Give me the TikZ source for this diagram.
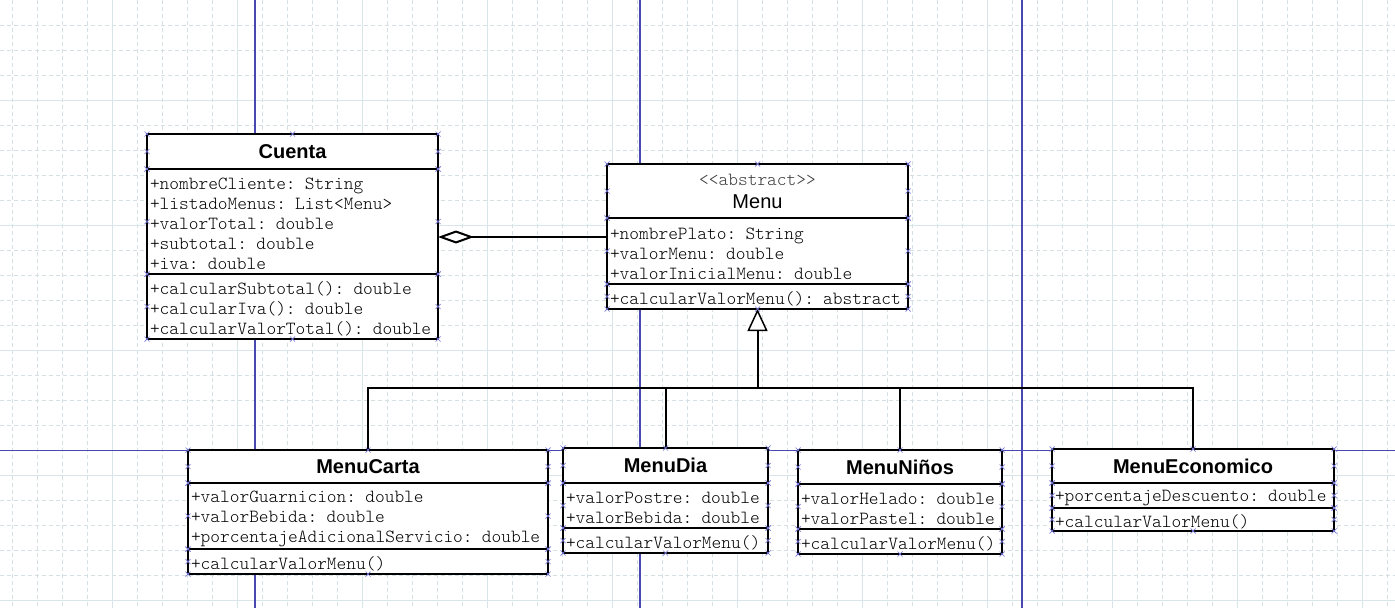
\documentclass[tikz,border=0pt]{standalone}
\usepackage{fontspec}
\usepackage{tikz}
\usetikzlibrary{positioning,arrows.meta}
\newfontfamily\umlmono{lmmonolt10-regular.otf}
\newfontfamily\umlsans{Liberation Sans}
\definecolor{gridminor}{RGB}{212,224,228}
\definecolor{gridmajor}{RGB}{216,229,233}
\definecolor{pageline}{RGB}{72,72,176}
\definecolor{handleblue}{RGB}{120,120,215}
\definecolor{stereogray}{RGB}{60,60,60}

\begin{document}
\begin{tikzpicture}[x=1pt,y=-1pt]
  \tikzset{classname/.style={draw,fill=white,line width=2pt,inner xsep=3pt,inner ysep=0pt,outer sep=0pt,
      align=center,font=\umlsans\bfseries\fontsize{20}{24}\selectfont}}
  \tikzset{members/.style={draw,fill=white,line width=2pt,inner xsep=3pt,inner ysep=0pt,outer sep=0pt,
      align=left,font=\umlmono\fontsize{18.5}{20}\selectfont,execute at begin node={\rule{0pt}{17pt}}}}
  \tikzset{link/.style={line width=2pt}}
  \tikzset{handle/.style={draw=handleblue,line width=0.7pt}}
  \useasboundingbox (0,0) rectangle (1395,608);
  \fill[white] (0,0) rectangle (1395,608);
  % background grid and page breaks
  \foreach \gx in {12.5,37.5,...,1390}
    \draw[gridminor,line width=0.8pt,dash pattern=on 4pt off 3pt] (\gx,0) -- (\gx,608);
  \foreach \gy in {25,50,...,600}
    \draw[gridminor,line width=0.8pt,dash pattern=on 4pt off 3pt] (0,\gy) -- (1395,\gy);
  \foreach \gx in {112.5,237.5,...,1390}
    \draw[gridmajor,line width=0.8pt] (\gx,0) -- (\gx,608);
  \foreach \gy in {100,225,...,600}
    \draw[gridmajor,line width=0.8pt] (0,\gy) -- (1395,\gy);
  \foreach \gx in {255,640,1022}
    \draw[pageline,line width=1.3pt] (\gx,0) -- (\gx,608);
  \draw[pageline,line width=1.3pt] (0,450.5) -- (1395,450.5);

  % Cuenta
  \node[classname,anchor=north west,text width=285pt,minimum height=35pt] (cuenta) at (147,134) {Cuenta};
  \node[members,below=0pt of cuenta,text width=285pt,minimum height=105pt] (cuentaAttr)
    {+nombreCliente: String\\+listadoMenus: List<Menu>\\+valorTotal: double\\+subtotal: double\\+iva: double};
  \node[members,below=0pt of cuentaAttr,text width=285pt,minimum height=65pt] (cuentaOps)
    {+calcularSubtotal(): double\\+calcularIva(): double\\+calcularValorTotal(): double};

  % Menu
  \node[classname,anchor=north west,text width=295pt,minimum height=54pt] (menu) at (607,164)
    {{\umlmono\mdseries\fontsize{18.5}{20}\selectfont\color{stereogray}<<abstract>>}\\[-1pt]
     {\mdseries Menu}};
  \node[members,below=0pt of menu,text width=295pt,minimum height=66pt] (menuAttr)
    {+nombrePlato: String\\+valorMenu: double\\+valorInicialMenu: double};
  \node[members,below=0pt of menuAttr,text width=295pt,minimum height=25pt] (menuOps)
    {+calcularValorMenu(): abstract};

  % MenuCarta
  \node[classname,anchor=north west,text width=354pt,minimum height=33pt] (menuCarta) at (188,450) {MenuCarta};
  \node[members,below=0pt of menuCarta,text width=354pt,minimum height=66pt] (menuCartaAttr)
    {+valorGuarnicion: double\\+valorBebida: double\\+porcentajeAdicionalServicio: double};
  \node[members,below=0pt of menuCartaAttr,text width=354pt,minimum height=25pt] (menuCartaOps)
    {+calcularValorMenu()};

  % MenuDia
  \node[classname,anchor=north west,text width=199pt,minimum height=35pt] (menuDia) at (563,448) {MenuDia};
  \node[members,below=0pt of menuDia,text width=199pt,minimum height=45pt] (menuDiaAttr)
    {+valorPostre: double\\+valorBebida: double};
  \node[members,below=0pt of menuDiaAttr,text width=199pt,minimum height=25pt] (menuDiaOps)
    {+calcularValorMenu()};

  % MenuNinos
  \node[classname,anchor=north west,text width=198pt,minimum height=34pt] (menuNinos) at (798,450) {MenuNiños};
  \node[members,below=0pt of menuNinos,text width=198pt,minimum height=45pt] (menuNinosAttr)
    {+valorHelado: double\\+valorPastel: double};
  \node[members,below=0pt of menuNinosAttr,text width=198pt,minimum height=25pt] (menuNinosOps)
    {+calcularValorMenu()};

  % MenuEconomico
  \node[classname,anchor=north west,text width=276pt,minimum height=34pt] (menuEconomico) at (1052,449) {MenuEconomico};
  \node[members,below=0pt of menuEconomico,text width=276pt,minimum height=25pt] (menuEconomicoAttr)
    {+porcentajeDescuento: double};
  \node[members,below=0pt of menuEconomicoAttr,text width=276pt,minimum height=23pt] (menuEconomicoOps)
    {+calcularValorMenu()};

  % relations
  \coordinate (aggLine) at (0,237);
  \coordinate (bus) at (0,388);
  \draw[link,{Diamond[open,fill=white,length=36pt,width=13pt]}-] (cuentaAttr.east |- aggLine) -- (menuAttr.west |- aggLine);
  \draw[link] (menuCarta.north) |- (menuEconomico.north |- bus) -- (menuEconomico.north);
  \draw[link] (menuDia.north) -- (menuDia.north |- bus);
  \draw[link] (menuNinos.north) -- (menuNinos.north |- bus);
  \draw[link,-{Triangle[open,fill=white,length=22pt,width=20pt,line width=1.5pt]}] (menuOps.south |- bus) -- (menuOps.south);

  % selection handles
  \foreach \n in {cuenta,cuentaAttr,cuentaOps,menu,menuAttr,menuOps,menuCarta,menuCartaAttr,menuCartaOps,
      menuDia,menuDiaAttr,menuDiaOps,menuNinos,menuNinosAttr,menuNinosOps,
      menuEconomico,menuEconomicoAttr,menuEconomicoOps}
    \foreach \a in {north west,north east,west,east,south west,south east}
      \draw[handle] (\n.\a) ++(-2.5,-2.5) -- ++(5,5) ++(-5,0) -- ++(5,-5);
  \foreach \n/\m in {cuenta/cuentaOps,menu/menuOps,menuCarta/menuCartaOps,menuDia/menuDiaOps,
      menuNinos/menuNinosOps,menuEconomico/menuEconomicoOps}
    \draw[handle] (\n.north) ++(-2.5,-2.5) -- ++(5,5) ++(-5,0) -- ++(5,-5)
      (\m.south) ++(-2.5,-2.5) -- ++(5,5) ++(-5,0) -- ++(5,-5);
\end{tikzpicture}
\end{document}
